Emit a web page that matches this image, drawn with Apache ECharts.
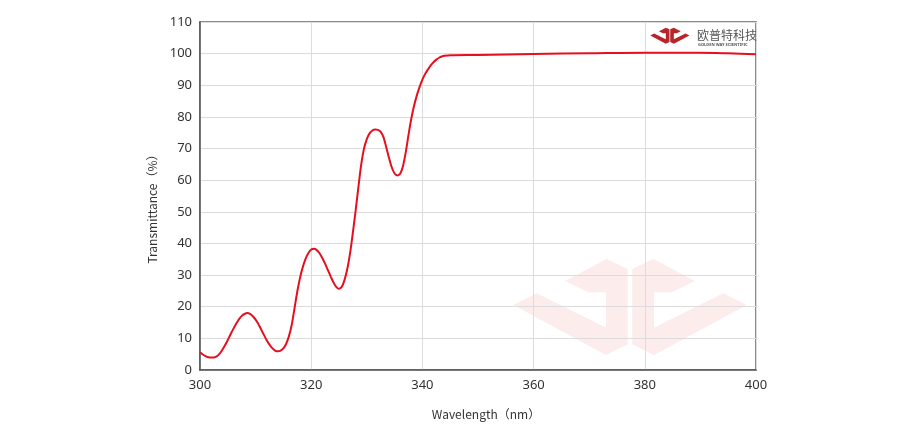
<!DOCTYPE html>
<html>
<head>
<meta charset="utf-8">
<script src="https://cdn.jsdelivr.net/npm/echarts@6/dist/echarts.min.js"></script>
<style>html,body{margin:0;padding:0;background:#fff}#c{width:924px;height:440px}</style>
</head>
<body>
<div id="c"></div>
<script>
var wavelength = [300,300.5,301,301.5,302,302.5,303,303.5,304,304.5,305,305.5,306,306.5,307,307.5,308,308.5,309,309.5,310,310.5,311,311.5,312,312.5,313,313.5,314,314.5,315,315.5,316,316.5,317,317.5,318,318.5,319,319.5,320,320.5,321,321.5,322,322.5,323,323.5,324,324.5,325,325.5,326,326.5,327,327.5,328,328.5,329,329.5,330,330.5,331,331.5,332,332.5,333,333.5,334,334.5,335,335.5,336,336.5,337,337.5,338,338.5,339,339.5,340,340.5,341,341.5,342,342.5,343,343.5,344,345,350,360,370,380,390,395,400];
var transmittance = [5.6,4.9,4.4,4.05,3.92,3.95,4.3,5.1,6.3,7.8,9.5,11.3,13.0,14.6,16.0,17.1,17.7,18.0,17.75,17.0,15.9,14.5,12.8,11.1,9.4,8.0,6.9,6.15,5.9,6.1,6.8,8.3,10.7,14.3,19.5,24.8,29.2,32.6,35.2,37.0,38.1,38.3,37.9,36.9,35.4,33.6,31.6,29.6,27.7,26.3,25.7,26.3,28.5,32.0,37.0,43.5,50.5,58.0,65.0,70.0,73.0,74.8,75.7,76.0,75.9,75.3,73.6,70.4,67.0,64.0,62.1,61.5,62.0,64.4,68.8,74.3,79.4,83.5,86.8,89.5,91.8,93.6,95.0,96.3,97.3,98.1,98.7,99.1,99.3,99.5,99.6,99.9,100.1,100.3,100.3,100.1,99.8];
var xTicks = [300,320,340,360,380,400];
var yTicks = [0,10,20,30,40,50,60,70,80,90,100,110];

var seriesData = wavelength.map(function(w,i){return [w, transmittance[i]];});

// watermark logo shape (decorative)
var leftPiece = [[40,150],[110,115],[318,218],[318,112],[265,112],[195,78],[320,12],[383,42],[383,268],[318,300]];
var rightPiece = leftPiece.map(function(p){return [780-p[0], p[1]];});
function place(pts, ox, oy, s){ return pts.map(function(p){return [ox + p[0]*s, oy + p[1]*s];}); }

var wmScale = 1/3;
var logoScale = 0.056;
var graphics = [
  {type:'polygon', z:-10, silent:true, shape:{points: place(leftPiece, 500, 255, wmScale)}, style:{fill:'#fcecec'}},
  {type:'polygon', z:-10, silent:true, shape:{points: place(rightPiece, 500, 255, wmScale)}, style:{fill:'#fcecec'}},
  {type:'polygon', z:10, silent:true, shape:{points: place(leftPiece, 648, 27, logoScale)}, style:{fill:'#b8262c'}},
  {type:'polygon', z:10, silent:true, shape:{points: place(rightPiece, 648, 27, logoScale)}, style:{fill:'#b8262c'}},
  {type:'text', z:10, silent:true, left:697, top:29, style:{text:'欧普特科技', fill:'#555', font:'12px "Noto Sans CJK SC"'}},
  {type:'text', z:10, silent:true, left:698, top:43, style:{text:'GOLDEN WAY SCIENTIFIC', fill:'#555', font:'bold 4px "Noto Sans"'}}
];

var chart = echarts.init(document.getElementById('c'), null, {renderer:'canvas'});
chart.setOption({
  animation:false,
  backgroundColor:'#fff',
  graphic: graphics,
  grid:{left:200, right:168, top:22, bottom:70, show:true, borderColor:'#666', borderWidth:1.5, backgroundColor:'transparent'},
  xAxis:{
    type:'value', min:xTicks[0], max:xTicks[xTicks.length-1], interval:20,
    name:'Wavelength（nm）', nameLocation:'middle', nameGap:38,
    nameTextStyle:{color:'#333', fontSize:12, fontFamily:'"Noto Sans CJK SC"', padding:[0,0,0,16]},
    axisLine:{show:true, lineStyle:{color:'#555', width:1.5}},
    axisTick:{show:false},
    axisLabel:{color:'#333', fontSize:13, margin:9, fontFamily:'"Noto Sans"'},
    splitLine:{show:true, lineStyle:{color:'#dcdcdc', width:1}}
  },
  yAxis:{
    type:'value', min:yTicks[0], max:yTicks[yTicks.length-1], interval:10,
    name:'Transmittance（%）', nameLocation:'middle', nameGap:33,
    nameTextStyle:{color:'#333', fontSize:12, fontFamily:'"Noto Sans CJK SC"', padding:[0,20,0,0]},
    axisLine:{show:true, lineStyle:{color:'#555', width:1.5}},
    axisTick:{show:false},
    axisLabel:{color:'#333', fontSize:13, margin:8, fontFamily:'"Noto Sans"'},
    splitLine:{show:true, lineStyle:{color:'#dcdcdc', width:1}}
  },
  series:[{
    type:'line', data:seriesData, smooth:0.3, symbol:'none',
    lineStyle:{color:'#e50f1f', width:2}
  }]
});
</script>
</body>
</html>
